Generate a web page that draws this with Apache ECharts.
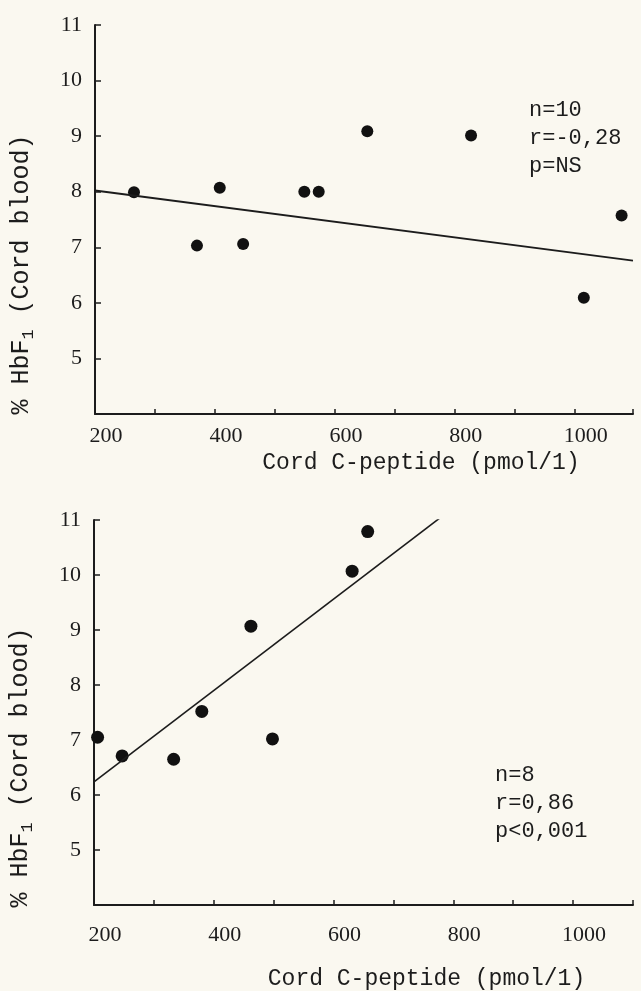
<!DOCTYPE html>
<html>
<head>
<meta charset="utf-8">
<script src="https://cdn.jsdelivr.net/npm/echarts@6/dist/echarts.min.js"></script>
<style>
html,body{margin:0;padding:0;background:#faf8f0;}
#chart{width:641px;height:991px;}
</style>
</head>
<body>
<div id="chart"></div>
<script>
// Top panel: cord C-peptide (pmol/l) vs %HbF1 (cord blood)
var topPoints = [
  [265, 7.99], [370, 7.03], [408, 8.07], [447, 7.06], [549, 8.0],
  [573, 8.0], [654, 9.09], [827, 9.01], [1015, 6.09], [1078, 7.57]
];
var topTrend = [[200, 8.02], [1097, 6.76]];
var topStats = ['n=10', 'r=-0,28', 'p=NS'];

// Bottom panel
var bottomPoints = [
  [206, 7.05], [247, 6.71], [333, 6.65], [380, 7.52],
  [462, 9.07], [498, 7.02], [631, 10.07], [657, 10.79]
];
var bottomTrend = [[200, 6.24], [784, 11.09]];
var bottomStats = ['n=8', 'r=0,86', 'p<0,001'];

var xAxisTitle = 'Cord C-peptide (pmol/1)';
var yTickMin = 4, yTickMax = 11;

var FONT = '"Liberation Mono", "DejaVu Sans Mono", monospace';
var TICKFONT = '"Liberation Serif", "DejaVu Serif", serif';
var INK = '#1c1c1c';

function xAxisCfg(gridIndex, max, gap, padLeft) {
  return {
    type: 'value', gridIndex: gridIndex, min: 200, max: max, interval: 100,
    name: xAxisTitle, nameLocation: 'middle', nameGap: gap,
    nameTextStyle: { fontFamily: FONT, fontSize: 23, color: INK, padding: [0, 0, 0, padLeft] },
    axisLine: { show: true, lineStyle: { color: INK, width: 2 } },
    axisTick: { show: true, inside: true, length: 5, lineStyle: { color: INK, width: 1.5 } },
    axisLabel: {
      fontFamily: TICKFONT, fontSize: 22, color: INK, margin: gridIndex === 0 ? 11 : 19,
      padding: [0, 0, 0, 22],
      showMaxLabel: true,
      formatter: function (v) { return v % 200 === 0 ? String(v) : ''; }
    },
    splitLine: { show: false }
  };
}
function yAxisCfg(gridIndex) {
  return {
    type: 'value', gridIndex: gridIndex, min: yTickMin, max: yTickMax, interval: 1,
    name: '% HbF{sub|1} (Cord blood)', nameLocation: 'middle', nameRotate: 90, nameGap: 58,
    nameTextStyle: {
      fontFamily: FONT, fontSize: 25, color: INK, padding: [0, 110, 0, 0],
      rich: { sub: { fontFamily: FONT, fontSize: 17, color: INK, padding: [14, 0, 0, 0] } }
    },
    axisLine: { show: true, lineStyle: { color: INK, width: 2 } },
    axisTick: { show: true, inside: true, length: 6, lineStyle: { color: INK, width: 1.5 } },
    axisLabel: {
      fontFamily: TICKFONT, fontSize: 22, color: INK, margin: 13,
      formatter: function (v) { return v === yTickMin ? '' : String(v); }
    },
    splitLine: { show: false }
  };
}

var chart = echarts.init(document.getElementById('chart'), null, { renderer: 'canvas' });
chart.setOption({
  backgroundColor: '#faf8f0',
  animation: false,
  title: [
    { text: topStats.join('\n'), left: 524, top: 91,
      textStyle: { fontFamily: FONT, fontSize: 22, fontWeight: 'normal', color: INK, lineHeight: 28 } },
    { text: bottomStats.join('\n'), left: 490, top: 756,
      textStyle: { fontFamily: FONT, fontSize: 22, fontWeight: 'normal', color: INK, lineHeight: 28 } }
  ],
  grid: [
    { left: 95, top: 25, width: 538, height: 389 },
    { left: 93, top: 520, width: 540, height: 387 }
  ],
  xAxis: [ xAxisCfg(0, 1097, 37, 114), xAxisCfg(1, 1100, 62, 126) ],
  yAxis: [ yAxisCfg(0), yAxisCfg(1) ],
  series: [
    { type: 'scatter', xAxisIndex: 0, yAxisIndex: 0, data: topPoints,
      symbol: 'circle', symbolSize: 12, itemStyle: { color: '#111', opacity: 1 } },
    { type: 'line', xAxisIndex: 0, yAxisIndex: 0, data: topTrend, showSymbol: false,
      lineStyle: { color: INK, width: 2 } },
    { type: 'scatter', xAxisIndex: 1, yAxisIndex: 1, data: bottomPoints,
      symbol: 'circle', symbolSize: 13, itemStyle: { color: '#111', opacity: 1 } },
    { type: 'line', xAxisIndex: 1, yAxisIndex: 1, data: bottomTrend, showSymbol: false,
      lineStyle: { color: INK, width: 1.6 } }
  ]
});
</script>
</body>
</html>
